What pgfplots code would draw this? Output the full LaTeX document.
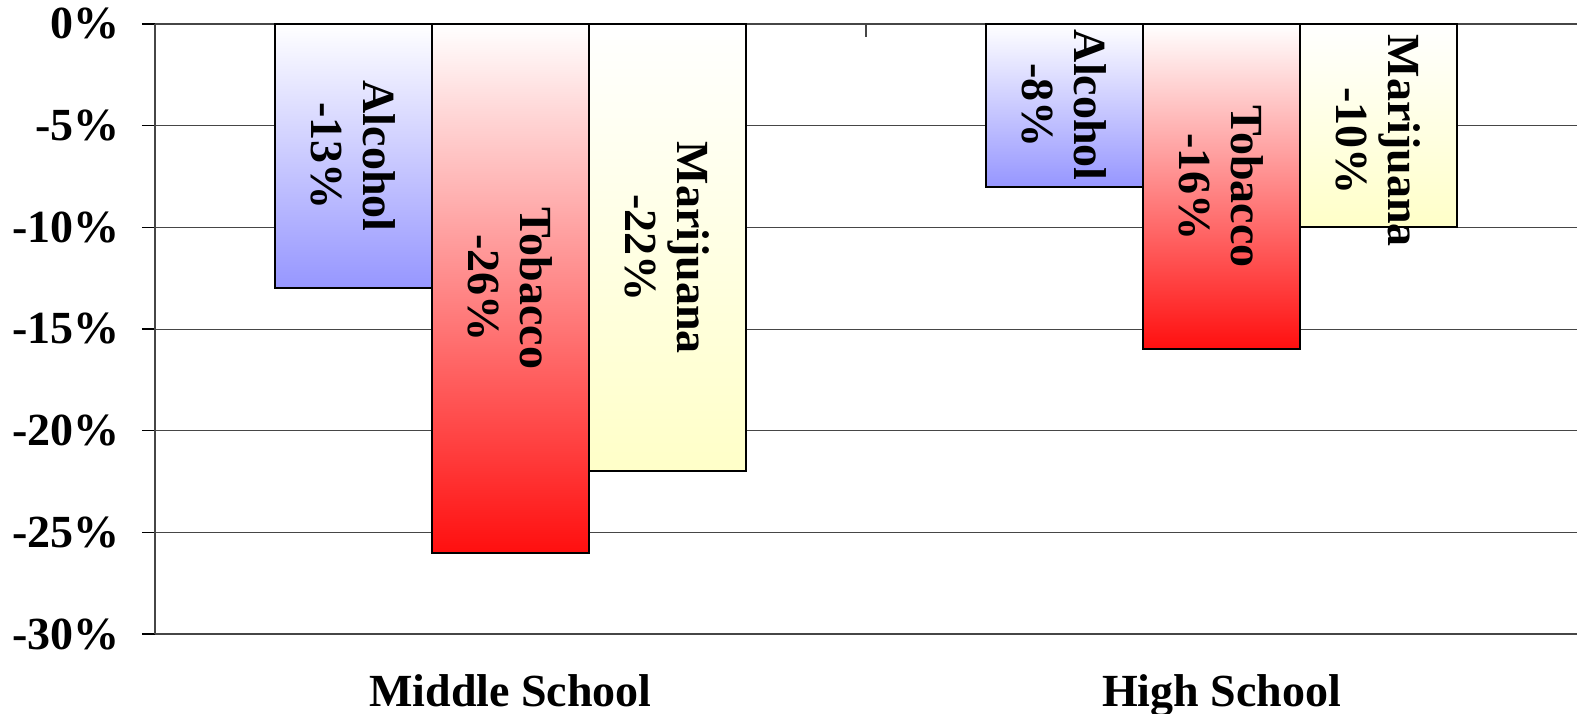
\documentclass[border=0pt]{standalone}
\usepackage{fontspec}
\setmainfont{Liberation Serif}
\usepackage{graphicx}
\usepackage{pgfplots}
\pgfplotsset{compat=1.18}
\usepackage{pgfplotstable}

\definecolor{gridgray}{RGB}{70,70,70}
\definecolor{alcohol}{RGB}{150,150,255}
\definecolor{tobacco}{RGB}{255,15,15}
\definecolor{marijuana}{RGB}{255,255,200}

\newcommand{\chartfont}{\bfseries\fontsize{23}{26}\selectfont}

% change in use, per school level (0 = middle, 1 = high)
\pgfplotstableread{
x v
0 -13
1 -8
}\alcoholdata
\pgfplotstableread{
x v
0 -26
1 -16
}\tobaccodata
\pgfplotstableread{
x v
0 -22
1 -10
}\marijuanadata

\pgfplotsset{
  % one bar per plot, so that each bar gets its own white-to-colour gradient
  drugbar/.style n args={3}{
    ybar, bar width=0.2208, bar shift=#1,
    draw=black, line width=1pt,
    top color=white, bottom color=#2,
    restrict x to domain=#3,
  },
  % rotated label in the middle of each bar
  druglabel/.style={
    draw=none, mark=none, forget plot,
    point meta=explicit,
    nodes near coords={#1\\\pgfmathprintnumber{\pgfplotspointmeta}\%},
  },
}

\begin{document}
\begin{tikzpicture}
\begin{axis}[
  at={(0,0)}, anchor=south west,
  scale only axis, width=711pt, height=305pt,
  xmin=-0.5, xmax=1.5, ymin=-30, ymax=0,
  axis y line=left,
  axis line style={-, gridgray, line width=0.6pt},
  xtick={0,1}, xticklabels={Middle School, High School},
  xtick pos=right, xticklabel pos=left,
  major x tick style={draw=none},
  minor xtick={0.5},
  minor x tick style={gridgray, line width=0.6pt, yshift=-6.5pt},
  minor tick length=6.5pt,
  major tick length=6.5pt,
  tick align=outside,
  ytick={-30,-25,...,0},
  yticklabels={-30\%,-25\%,-20\%,-15\%,-10\%,-5\%,0\%},
  major y tick style={black, line width=0.6pt},
  ymajorgrids,
  grid style={gridgray, line width=0.5pt},
  yticklabel style={font=\chartfont, anchor=east, inner sep=0pt, xshift=-11pt},
  xticklabel style={font=\chartfont, anchor=base, inner sep=0pt, yshift=-29.5pt},
  every node near coord/.append style={
    anchor=center, rotate=-90, align=center,
    font=\chartfont, text=black, inner sep=0pt,
    /pgf/number format/assume math mode=true,
  },
  clip=false,
]
% Middle School
\addplot[drugbar={-0.2208}{alcohol}{-0.1:0.1}] table[x=x, y=v] {\alcoholdata};
\addplot[drugbar={0}{tobacco}{-0.1:0.1}] table[x=x, y=v] {\tobaccodata};
\addplot[drugbar={0.2208}{marijuana}{-0.1:0.1}] table[x=x, y=v] {\marijuanadata};
% High School
\addplot[drugbar={-0.2208}{alcohol}{0.9:1.1}] table[x=x, y=v] {\alcoholdata};
\addplot[drugbar={0}{tobacco}{0.9:1.1}] table[x=x, y=v] {\tobaccodata};
\addplot[drugbar={0.2208}{marijuana}{0.9:1.1}] table[x=x, y=v] {\marijuanadata};

% labels centred in the bars, kept clear of the top edge
\addplot[druglabel=Alcohol] table[x expr=\thisrow{x}-0.2208, y expr=\thisrow{v}/2, meta=v] {\alcoholdata};
\addplot[druglabel=Tobacco] table[x expr=\thisrow{x}, y expr=\thisrow{v}/2, meta=v] {\tobaccodata};
\addplot[druglabel=Marijuana] table[x expr=\thisrow{x}+0.2208, y expr={min(\thisrow{v}/2,-5.75)}, meta=v] {\marijuanadata};
\end{axis}
\pgfresetboundingbox
\useasboundingbox (-77.5pt,-39.5pt) rectangle (711pt,317pt);
\end{tikzpicture}
\end{document}
